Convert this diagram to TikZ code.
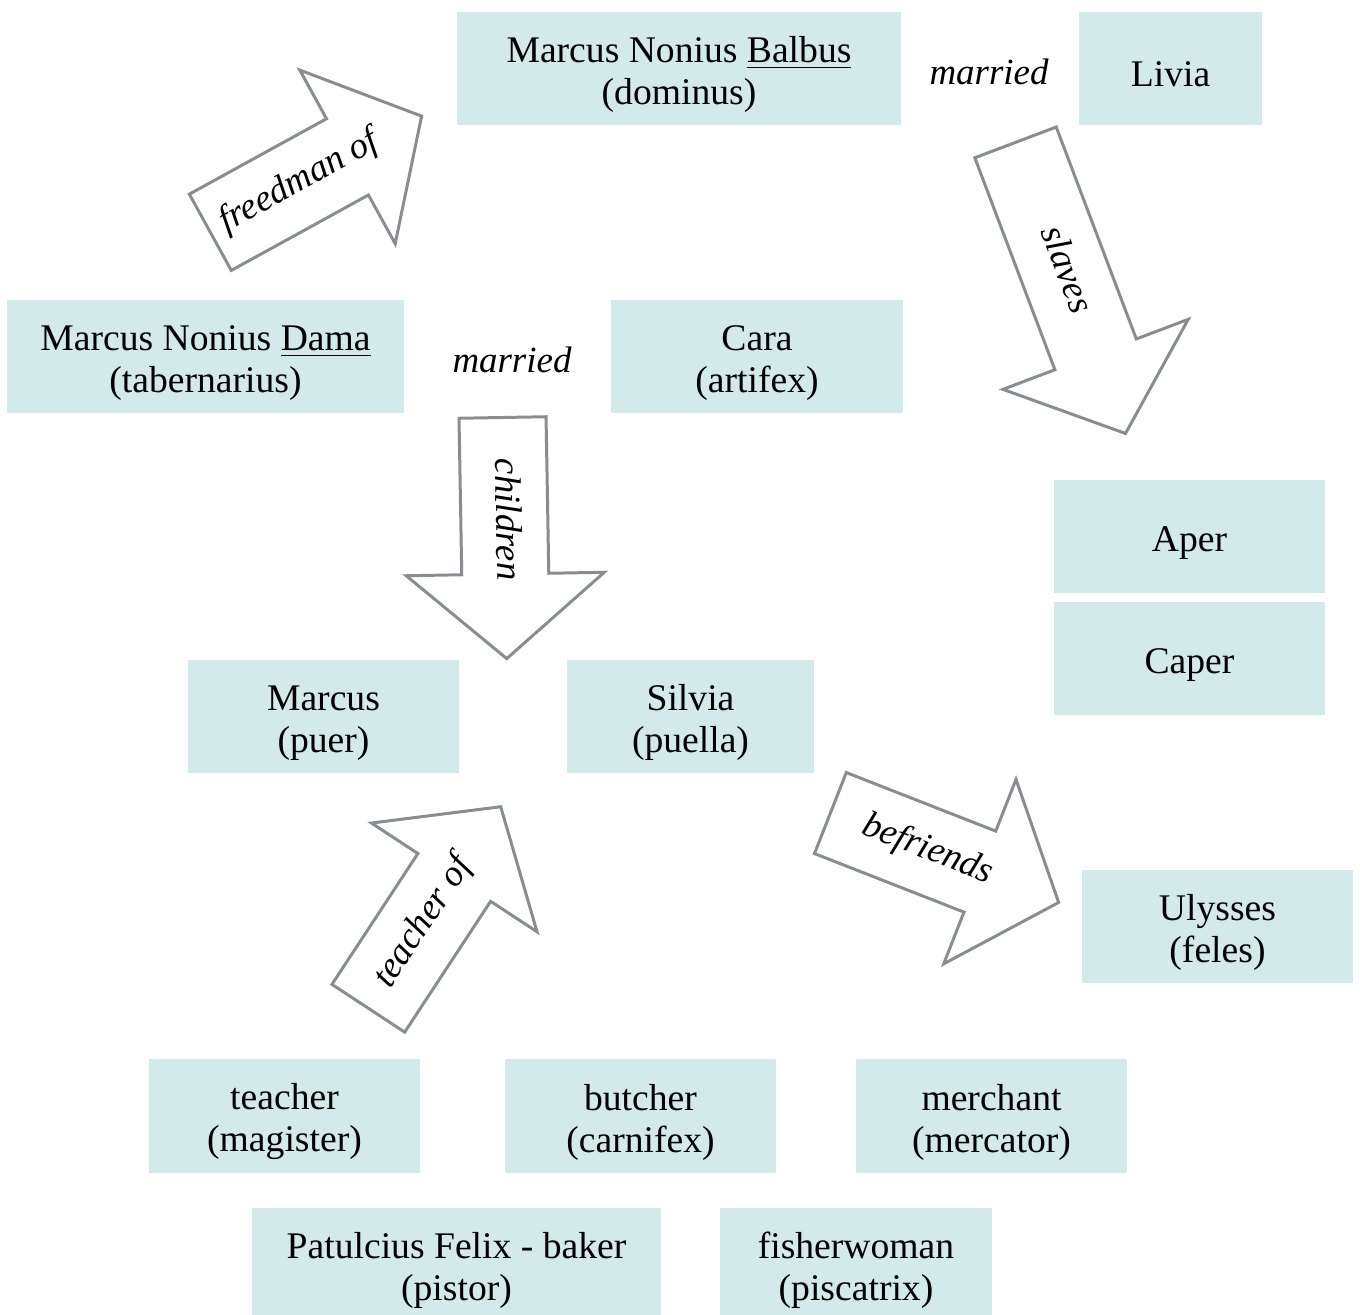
\documentclass[tikz,border=0pt]{standalone}
\usepackage{fontspec}
\setmainfont{Liberation Serif}
\usetikzlibrary{shapes.arrows}
\definecolor{boxfill}{RGB}{210,234,234}
\definecolor{arrowgray}{RGB}{137,140,145}

\begin{document}
\begin{tikzpicture}[x=0.01cm,y=0.01cm,
    person/.style={fill=boxfill,align=center,minimum height=1.13cm,inner sep=0pt,
        font=\fontsize{10.7pt}{11.95pt}\selectfont,execute at begin node={\rule{0pt}{#1}}},
    person/.default=0.8cm,
    rel/.style={font=\fontsize{10.5pt}{12pt}\selectfont\itshape},
    bigarrow/.style={single arrow,draw=arrowgray,line width=0.85pt,fill=white,minimum height=#1,
        minimum width=1.95cm,single arrow head extend=0.555cm,single arrow tip angle=99,
        inner xsep=0pt,inner ysep=0.25cm,text height=0.25cm,text depth=0.09cm,
        anchor=tail,font=\fontsize{10.5pt}{12pt}\selectfont\itshape}]
    \useasboundingbox (0,0) rectangle (1360,-1315);

    % family of Balbus
    \node[person,minimum width=4.44cm] (balbus) at (679,-68.5) {Marcus Nonius \underline{Balbus}\\(dominus)};
    \node[person=0.37cm,minimum width=1.83cm] (livia) at (1170.5,-68.5) {Livia};
    \node[rel] (married1) at (989,-72) {married};

    % family of Dama
    \node[person,minimum width=3.97cm] (dama) at (205.5,-356.5) {Marcus Nonius \underline{Dama}\\(tabernarius)};
    \node[person,minimum width=2.92cm] (cara) at (757,-356.5) {Cara\\(artifex)};
    \node[rel] (married2) at (512,-360) {married};
    \node[person,minimum width=2.71cm] (marcus) at (323.5,-716.5) {Marcus\\(puer)};
    \node[person,minimum width=2.47cm] (silvia) at (690.5,-716.5) {Silvia\\(puella)};

    % slaves and cat
    \node[person=0.37cm,minimum width=2.71cm] (aper) at (1189.5,-536.5) {Aper};
    \node[person=0.37cm,minimum width=2.71cm] (caper) at (1189.5,-658.5) {Caper};
    \node[person,minimum width=2.71cm] (ulysses) at (1217.5,-926.5) {Ulysses\\(feles)};

    % town
    \node[person,minimum width=2.71cm] (teacher) at (284.5,-1116) {teacher\\(magister)};
    \node[person,minimum width=2.71cm] (butcher) at (640.5,-1116) {butcher\\(carnifex)};
    \node[person,minimum width=2.71cm] (merchant) at (991.5,-1116) {merchant\\(mercator)};
    \node[person,minimum width=4.09cm] (baker) at (456.5,-1264.5) {Patulcius Felix - baker\\(pistor)};
    \node[person,minimum width=2.72cm] (fisher) at (856,-1264.5) {fisherwoman\\(piscatrix)};

    % block arrows
    \node[bigarrow=2.41cm,rotate=28.8] (freedman) at (209,-233) {freedman of};
    \node[bigarrow=3.11cm,rotate=-69.3] (slaves) at (1015,-141) {slaves};
    \node[bigarrow=2.41cm,rotate=-89] (children) at (502.5,-416) {children};
    \node[bigarrow=2.41cm,rotate=56.7] (teacherof) at (367.5,-1009.5) {teacher of};
    \node[bigarrow=2.45cm,rotate=-21.4] (befriends) at (829,-812.5) {befriends};
\end{tikzpicture}
\end{document}
